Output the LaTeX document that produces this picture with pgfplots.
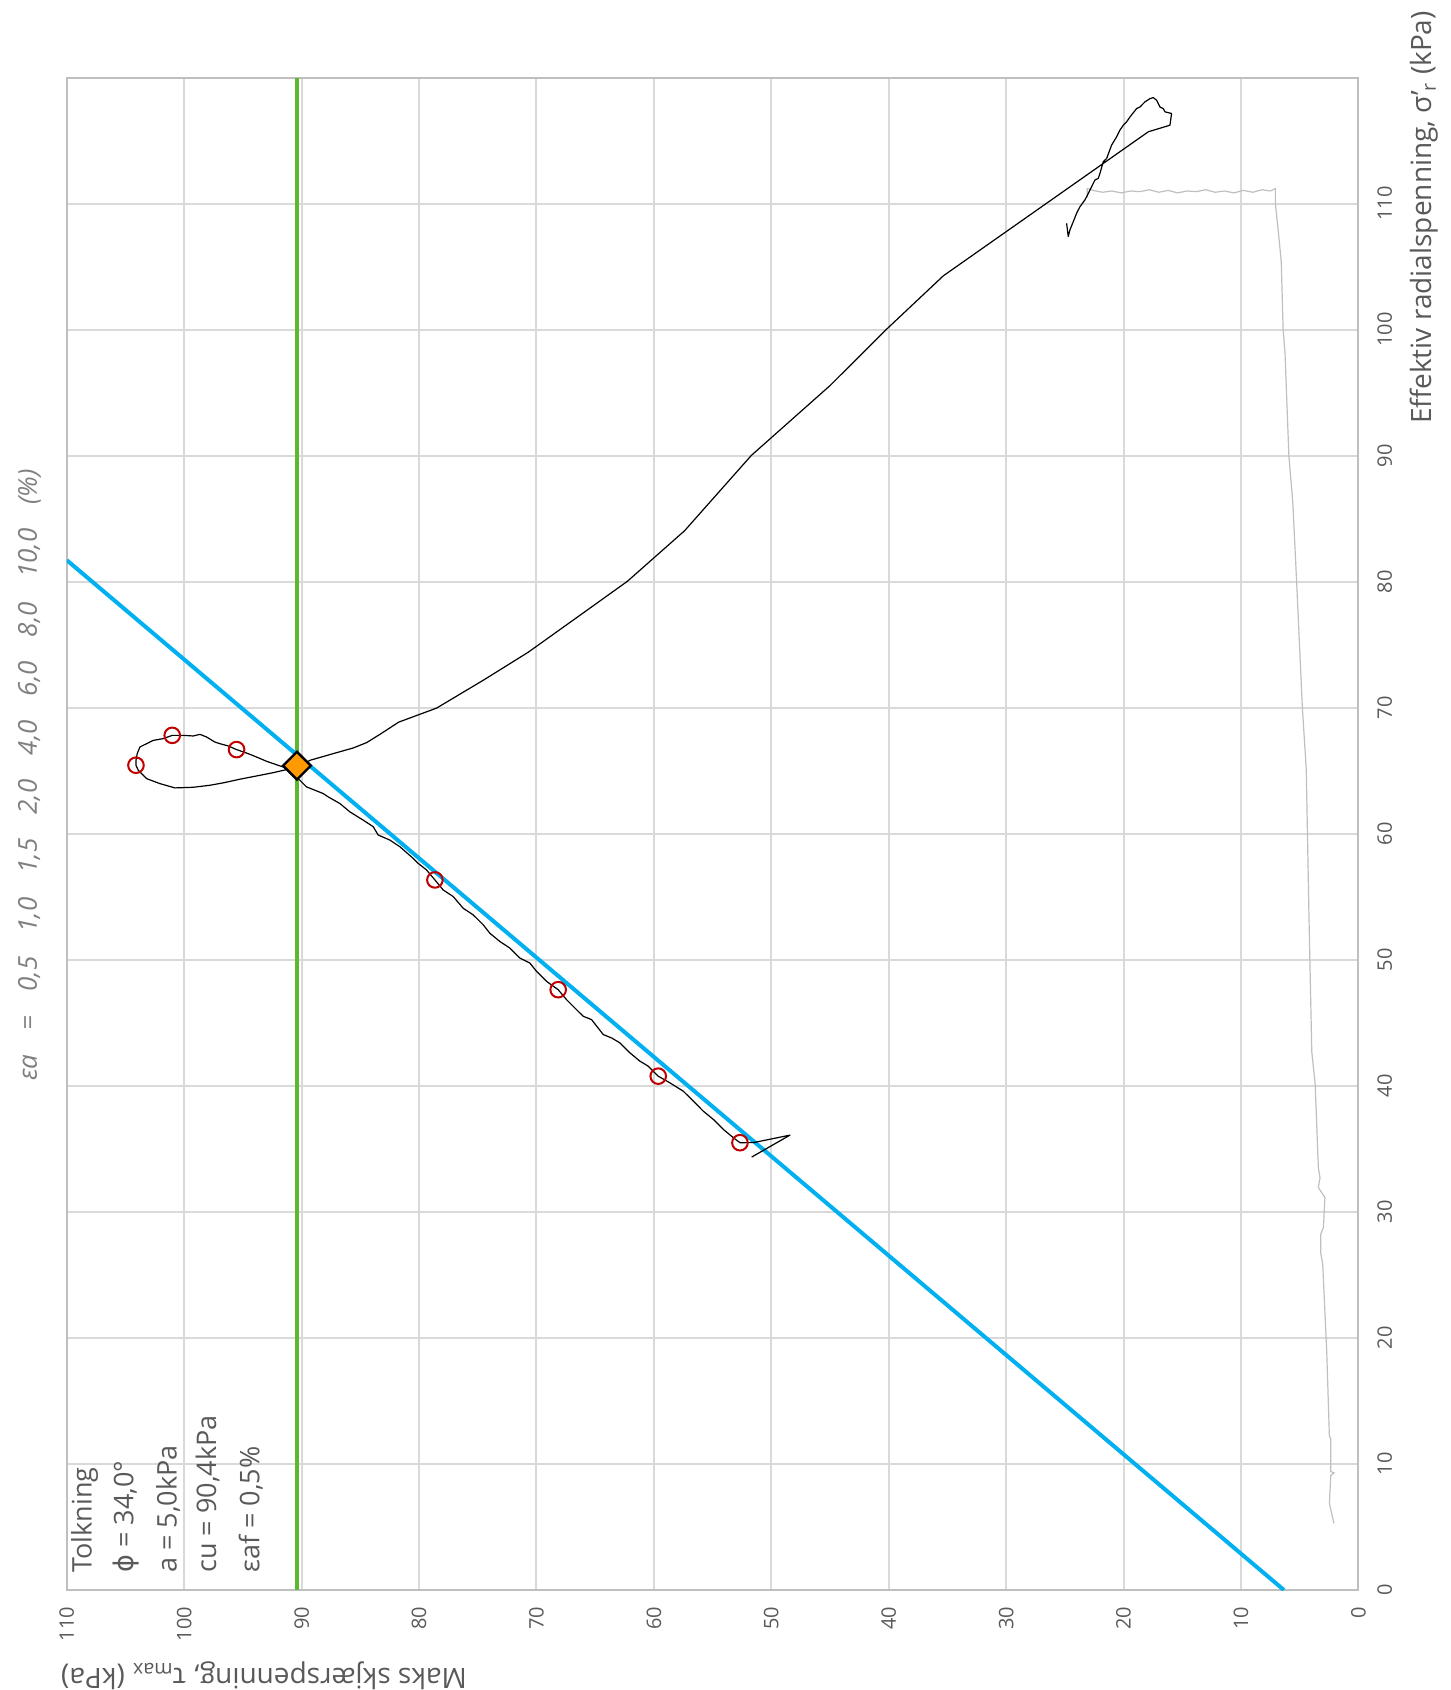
\documentclass[border=0pt]{standalone}
\usepackage{pgfplots}
\pgfplotsset{compat=1.18}
\usepackage{fontspec}
\setmainfont{Open Sans}
\newfontfamily\dejavu{DejaVu Sans}
\definecolor{gridc}{HTML}{D9D9D9}
\definecolor{borderc}{HTML}{BFBFBF}
\definecolor{textc}{HTML}{595959}
\definecolor{epsc}{HTML}{7F7F7F}
\definecolor{bluec}{HTML}{00B0F0}
\definecolor{greenc}{HTML}{5CB82E}
\definecolor{orangec}{HTML}{FF9A00}
\definecolor{redc}{HTML}{C00000}
\definecolor{grayc}{HTML}{BFBFBF}
\begin{document}
\begin{tikzpicture}
\begin{axis}[
  scale only axis, width=645.8pt, height=756.2pt,
  xmin=0, xmax=110, ymin=0, ymax=120, x dir=reverse,
  xtick={0,10,...,110}, ytick={0,10,...,110},
  grid=major, major grid style={draw=gridc, line width=1pt},
  axis line style={draw=borderc, line width=1pt},
  major tick length=0pt, tick style={draw=none},
  /pgf/number format/assume math mode=true,
  xticklabel style={rotate=90, anchor=east, font=\fontsize{10}{12}\selectfont, text=textc},
  xticklabel shift=5pt,
  yticklabel pos=right,
  yticklabel style={rotate=90, anchor=north, font=\fontsize{10}{12}\selectfont, text=textc},
  yticklabel shift=6pt,
  clip=true,
]
% gray series
\addplot[draw=grayc, line width=0.6pt] coordinates {
(2.08,5.28) (2.47,6.87) (2.35,9.10) (2.08,9.29) (2.35,9.4) (2.35,12.0) (2.47,12.2)
(2.70,19.0) (3.04,25.87) (3.21,26.73) (3.21,28.24) (2.98,28.76) (2.85,31.14)
(3.41,31.93) (3.27,32.7) (3.41,33.5) (3.68,40.1) (3.97,42.7) (4.2,53.0)
(4.44,65.13) (4.77,69.97) (5.26,79.98) (5.59,86.35) (5.92,89.98) (6.25,98.17)
(6.41,100.0) (6.57,105.4) (6.80,107.6) (7.07,110.0) (7.07,111.2)
(7.5,111.0) (8.2,111.1) (9.0,110.9) (9.8,111.05) (10.6,110.85) (11.4,111.0)
(12.2,110.9) (13.0,111.1) (13.8,110.95) (14.6,111.0) (15.4,110.85) (16.2,111.05)
(17.0,110.9) (17.8,111.1) (18.6,110.95) (19.4,111.0) (20.2,110.85) (21.0,111.0)
(21.8,110.9) (22.6,111.05) (23.1,111.2) (23.1,110.5)
};
% cu line
\addplot[draw=greenc, line width=1.7pt] coordinates {(90.4,0) (90.4,120)};
% failure line
\addplot[draw=bluec, line width=2pt] coordinates {(6.343,0) (110,81.71)};
% stress path
\addplot[draw=black, line width=0.6pt, line join=round] coordinates {
(51.67,34.35) (48.41,36.09) (51.5,35.5) (52.67,35.49)
(53.24,35.89) (54.09,36.55) (54.94,37.34) (55.80,38.00) (56.93,39.06) (57.50,39.58)
(58.64,40.24) (59.63,40.77) (60.48,41.56) (61.19,41.96) (62.04,42.62) (62.89,43.41)
(63.60,43.80) (64.31,44.07) (65.31,45.26) (66.02,45.52) (66.87,46.31) (67.44,46.84)
(68.15,47.63) (69.14,48.29) (69.99,49.08) (70.56,49.74) (71.41,50.14) (72.26,50.93)
(73.11,51.45) (73.97,52.11) (74.53,52.77) (75.39,53.57) (76.24,54.09) (77.09,55.02)
(77.94,55.54) (78.65,56.34) (79.36,57.13) (80.07,57.65) (80.50,58.05) (81.63,58.97)
(82.48,59.50) (83.48,59.90) (83.90,60.56) (84.75,61.08) (85.89,61.74) (86.74,62.40)
(87.74,62.93) (88.16,63.19) (89.58,63.72) (90.43,64.51) (91.0,65.0)
(91.57,65.30) (92.42,65.57) (92.98,65.75) (93.84,66.09) (94.55,66.36) (95.54,66.68)
(96.25,66.97) (96.96,67.15) (97.39,67.28) (98.10,67.68) (98.66,67.89) (99.23,67.76)
(100.08,67.81) (101.02,67.81) (101.79,67.55) (102.64,67.41) (102.92,67.28)
(103.77,66.89) (104.00,66.36) (104.11,65.83) (104.11,65.44)
(103.91,65.04) (103.21,64.38) (102.07,63.98) (100.79,63.64) (99.23,63.69) (97.81,63.85)
(96.68,64.04) (95.26,64.33) (93.55,64.64) (92.42,64.85) (91.28,65.09) (90.43,65.22)
(89.29,65.83) (87.31,66.36) (85.60,66.81) (84.47,67.23) (83.33,67.89)
(81.73,68.86) (78.51,69.97) (74.5,72.2) (70.71,74.40) (66.5,77.2) (62.26,80.03)
(57.39,84.04) (51.70,90.02) (45.00,95.56) (40.22,100.0) (35.35,104.27)
(17.89,115.7) (16.05,116.22) (15.91,117.15) (16.47,117.28) (16.62,117.54) (16.90,117.67)
(17.18,118.20) (17.47,118.41) (17.75,118.33) (18.18,118.07) (18.60,117.67) (18.89,117.54)
(19.45,116.88) (19.74,116.49) (20.02,116.22) (20.31,115.83) (20.59,115.30) (21.02,114.64)
(21.44,113.58) (21.73,113.32) (22.01,112.40) (22.15,112.0) (22.44,111.87) (22.58,111.61)
(23.00,110.81) (23.29,110.29) (23.71,109.76) (24.00,109.23) (24.28,108.57) (24.57,107.91)
(24.71,107.39) (24.85,108.44)
};
% strain markers
\addplot[only marks, mark=o, mark size=3.9pt, draw=redc, line width=1pt] coordinates {
(52.67,35.49) (59.63,40.77) (68.15,47.63) (78.65,56.34) (95.54,66.68) (101.02,67.81) (104.11,65.44)
};
% failure point
\addplot[only marks, mark=square*, mark size=4.9pt, mark options={rotate=45, fill=orangec, draw=black, line width=1.2pt}] coordinates {(90.4,65.4)};
\end{axis}
% axis titles
\node[rotate=90, anchor=base east, text=textc, font=\fontsize{14}{16}\selectfont, inner sep=0pt] at (682.4pt,789.6pt) {Effektiv radialspenning, σ'\textsubscript{r} (kPa)};
\node[rotate=180, anchor=base east, text=textc, font=\fontsize{14}{16}\selectfont, inner sep=0pt] at (-3pt,-39pt) {Maks skjærspenning, τ\textsubscript{max} (kPa)};
% strain legend
\node[rotate=90, anchor=base, text=epsc, font=\fontsize{13}{15}\selectfont\itshape, inner sep=0pt] at (-15pt,407.5pt)
 {εa\hspace{12pt}=\hspace{12pt}0,5\hspace{12pt}1,0\hspace{12pt}1,5\hspace{12pt}2,0\hspace{12pt}4,0\hspace{12pt}6,0\hspace{12pt}8,0\hspace{12pt}10,0\hspace{12pt}(\%)};
% interpretation box
\begin{scope}[every node/.style={rotate=90, anchor=base west, text=textc, font=\fontsize{13.5}{16}\selectfont, inner sep=0pt}]
\node at (12.45pt,8.5pt) {Tolkning};
\node at (33.25pt,8.5pt) {{\dejavu ϕ} = 34,0°};
\node at (54.95pt,8.5pt) {a = 5,0kPa};
\node at (74.6pt,8.5pt) {cu = 90,4kPa};
\node at (96.25pt,8.5pt) {εaf = 0,5\%};
\end{scope}
\pgfresetboundingbox
\path[use as bounding box] (-33.4pt,-50pt) rectangle (691.6pt,795pt);
\end{tikzpicture}
\end{document}
